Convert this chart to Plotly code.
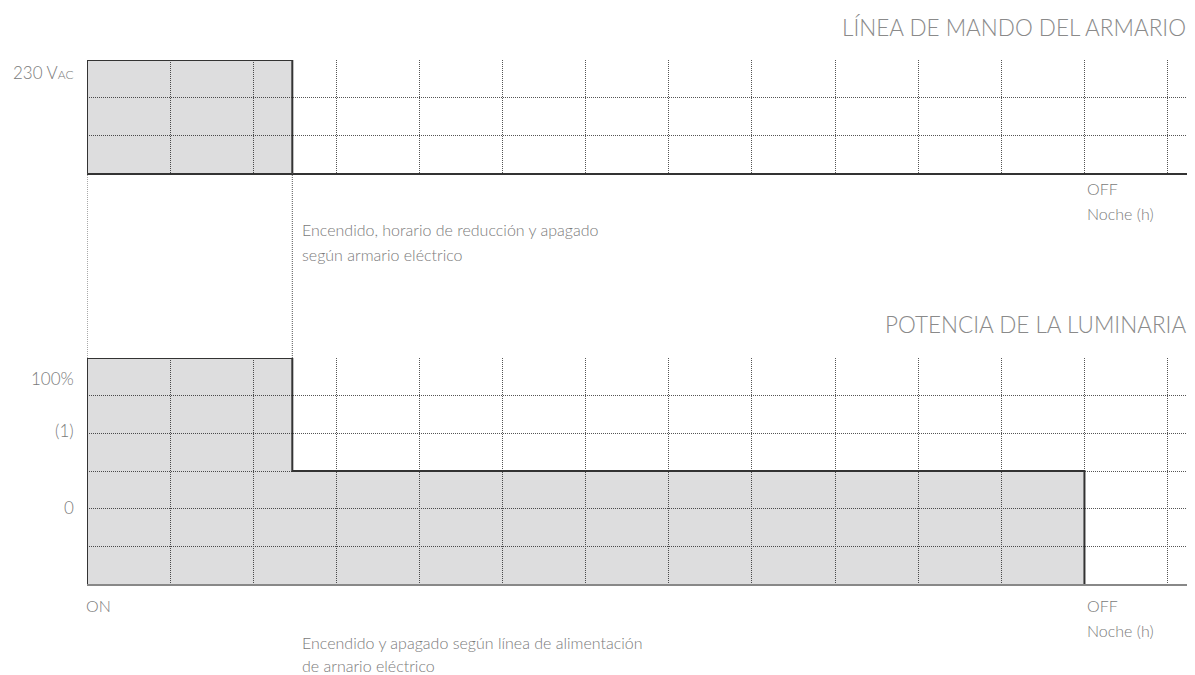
import plotly.graph_objects as go

# hours on the night axis (grid columns)
hours = list(range(0, 14))
switch_h = 2.47          # end of full-power / control signal period
off_h = 12               # luminaire off
hour_max = 13.33

# control line (top panel): rows, ON interval
ctrl_rows = 3
ctrl_x = [0, 0, switch_h, switch_h]
ctrl_y = [0, 3, 3, 0]

# luminaire power (bottom panel): rows, 100% then reduced level
pow_rows = 6
pow_x = [0, 0, switch_h, switch_h, off_h, off_h]
pow_y = [0, 6, 6, 3, 3, 0]

ylabels_top = [("230 V<span style='font-size:12px'>AC</span>", 2.68)]
ylabels_bot = [("100%", 5.46), ("(1)", 4.08), ("0", 2.04)]

# page body has an 8px margin, so the figure is drawn from (8, 8)
OFF = 8
W, H = 1195 - OFF, 675 - OFF
FONT = "Lato"
GRID = "#555"
DARK = "#333"
FILL = "rgba(0,0,10,0.135)"
TXT = "#7a7a7a"


def px(p):
    return (p - OFF) / W


def py(p):
    return 1 - (p - OFF) / H


top_dom = [py(173), py(60)]
bot_dom = [py(584), py(358)]
x_dom = [px(87), 1]

fig = go.Figure()
fig.add_trace(go.Scatter(x=ctrl_x, y=ctrl_y, fill="toself", fillcolor=FILL,
                         mode="lines", line=dict(color=DARK, width=2),
                         xaxis="x", yaxis="y", hoverinfo="skip"))
fig.add_trace(go.Scatter(x=pow_x, y=pow_y, fill="toself", fillcolor=FILL,
                         mode="lines", line=dict(color=DARK, width=2),
                         xaxis="x2", yaxis="y2", hoverinfo="skip"))

xcommon = dict(range=[0, hour_max], domain=x_dom, tickvals=hours, showticklabels=False,
               ticks="", showgrid=True, gridcolor=GRID, griddash="1px,1px", gridwidth=1,
               zeroline=False, showline=True, linewidth=2, fixedrange=True)
ycommon = dict(dtick=1, tick0=0, showticklabels=False, ticks="", showgrid=True,
               gridcolor=GRID, griddash="1px,1px", gridwidth=1, zeroline=False,
               showline=False, fixedrange=True)

fig.update_layout(
    width=W, height=H, margin=dict(l=0, r=0, t=0, b=0),
    paper_bgcolor="white", plot_bgcolor="white", showlegend=False,
    xaxis=dict(**xcommon, anchor="y", linecolor=DARK),
    xaxis2=dict(**xcommon, anchor="y2", linecolor="#888"),
    yaxis=dict(**ycommon, range=[0, ctrl_rows], domain=top_dom, anchor="x"),
    yaxis2=dict(**ycommon, range=[0, pow_rows], domain=bot_dom, anchor="x2"),
    font=dict(family=FONT, color=TXT),
)

# dotted connectors between the two panels
for xv in [0, switch_h]:
    fig.add_shape(type="line", xref="x", yref="paper", x0=xv, x1=xv,
                  y0=bot_dom[1], y1=top_dom[0],
                  line=dict(color=GRID, width=1, dash="1px,1px"))

titles = [("LÍNEA DE MANDO DEL ARMARIO", 27), ("POTENCIA DE LA LUMINARIA", 325)]
for txt, yp in titles:
    fig.add_annotation(text=txt, xref="paper", yref="paper", x=px(1188), y=py(yp),
                       xanchor="right", yanchor="middle", showarrow=False,
                       font=dict(size=22.5, color="#8a8a8a", weight=300))

for txt, yv in ylabels_top:
    fig.add_annotation(text=txt, xref="paper", yref="y", x=px(76), y=yv,
                       xanchor="right", yanchor="middle", showarrow=False,
                       font=dict(size=17, color=TXT, weight=300))
for txt, yv in ylabels_bot:
    fig.add_annotation(text=txt, xref="paper", yref="y2", x=px(76), y=yv,
                       xanchor="right", yanchor="middle", showarrow=False,
                       font=dict(size=17, color=TXT, weight=300))

small = [
    ("OFF", "x", off_h, 189, 2), ("Noche (h)", "x", off_h, 214, 2),
    ("ON", "x2", 0, 605, -2), ("OFF", "x2", off_h, 605, 2), ("Noche (h)", "x2", off_h, 630, 2),
    ("Encendido, horario de reducción y apagado", "x", switch_h, 230, 9),
    ("según armario eléctrico", "x", switch_h, 255, 9),
    ("Encendido y apagado según línea de alimentación", "x2", switch_h, 642, 9),
    ("de arnario eléctrico", "x2", switch_h, 665, 9),
]
for txt, xr, xv, yp, sh in small:
    fig.add_annotation(text=txt, xref=xr, yref="paper", x=xv, y=py(yp),
                       xanchor="left", yanchor="middle", showarrow=False,
                       xshift=sh, borderpad=0,
                       font=dict(size=16, color=TXT, weight=300))

fig.write_html("out.html")
